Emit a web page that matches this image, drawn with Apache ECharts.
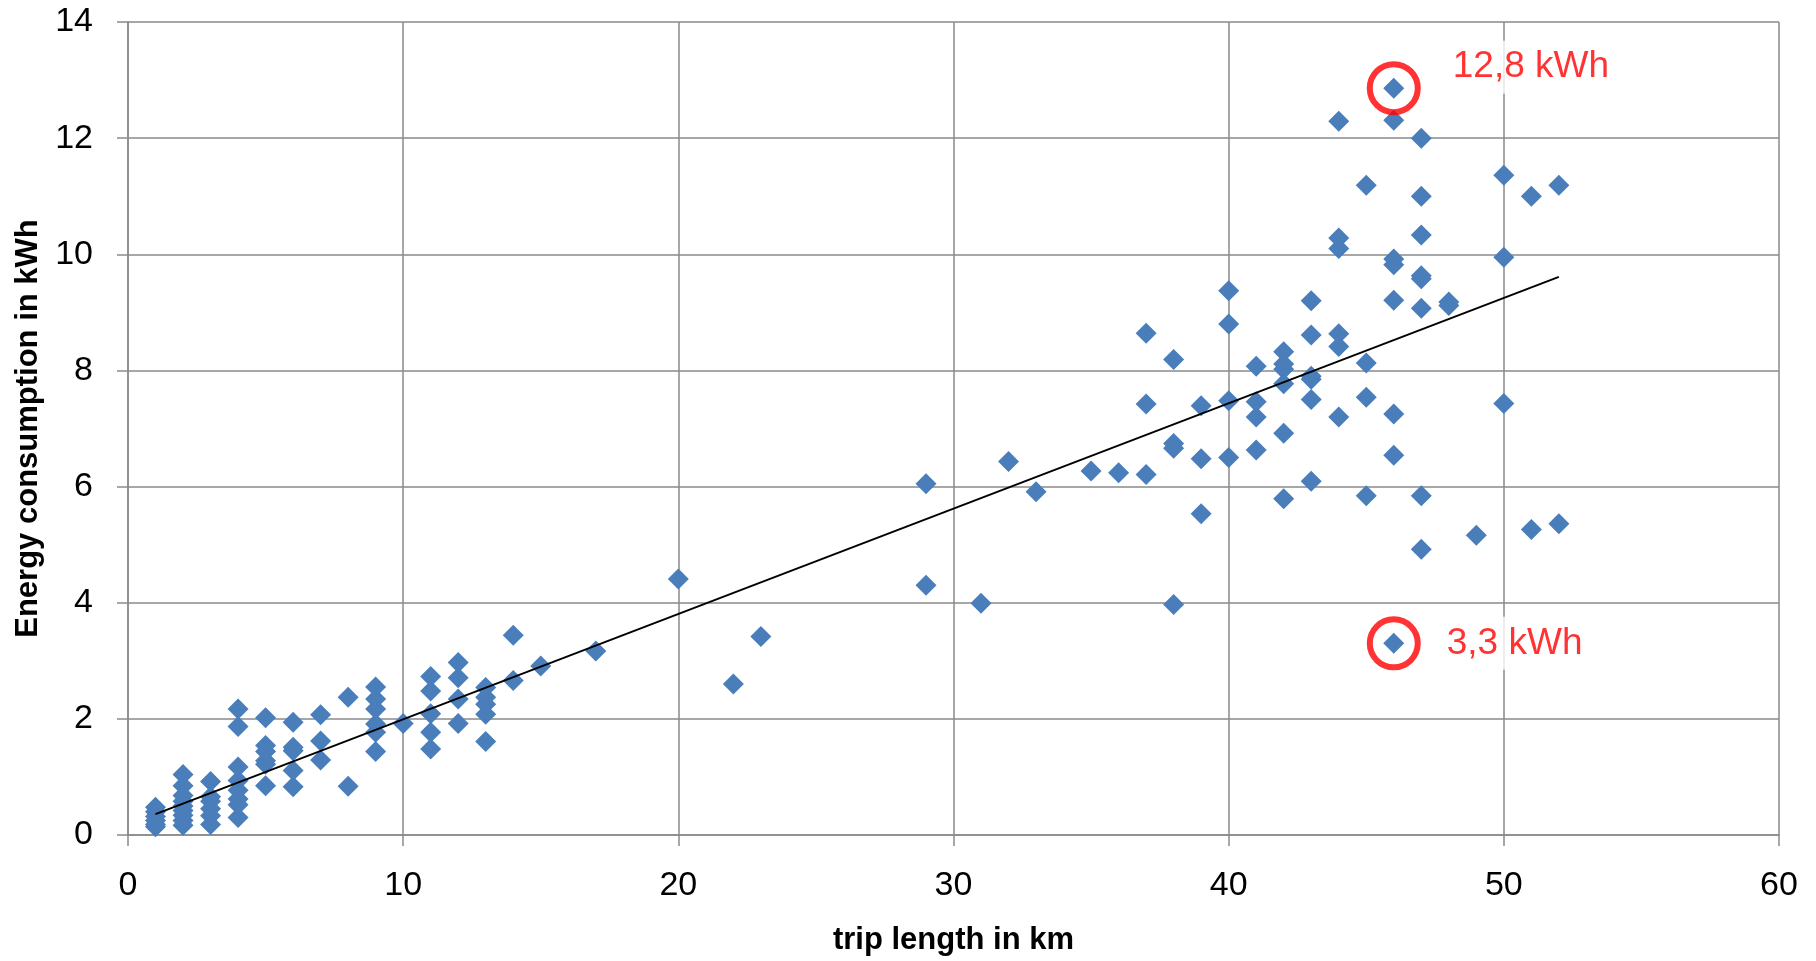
<!DOCTYPE html>
<html>
<head>
<meta charset="utf-8">
<script src="https://cdn.jsdelivr.net/npm/echarts@6/dist/echarts.min.js"></script>
<style>
html,body{margin:0;padding:0;background:#fff;}
#chart{width:1816px;height:961px;}
</style>
</head>
<body>
<div id="chart"></div>
<script>
// trip length (km) and energy consumption (kWh), one entry per trip
const tripKm = [
  1,1,1,1,1,1,
  2,2,2,2,2,2,2,2,2,
  3,3,3,3,3,3,
  4,4,4,4,4,4,4,4,
  5,5,5,5,5,5,
  6,6,6,6,6,
  7,7,7,
  8,8,
  9,9,9,9,9,9,
  10,
  11,11,11,11,11,
  12,12,12,12,
  13,13,13,13,13,
  14,14,
  15,17,20,22,23,
  29,29,31,32,33,35,36,
  37,37,37,
  38,38,38,38,
  39,39,39,
  40,40,40,40,
  41,41,41,41,
  42,42,42,42,42,42,
  43,43,43,43,43,43,
  44,44,44,44,44,44,
  45,45,45,45,
  46,46,46,46,46,46,46,46,
  47,47,47,47,47,47,47,47,
  48,48,
  49,
  50,50,50,
  51,51,
  52,52
];
const energyKWh = [
  0.48,0.40,0.32,0.25,0.18,0.14,
  1.04,0.85,0.68,0.58,0.50,0.42,0.34,0.25,0.17,
  0.92,0.66,0.58,0.45,0.33,0.18,
  2.17,1.87,1.17,0.94,0.77,0.62,0.52,0.30,
  2.02,1.54,1.44,1.28,1.22,0.85,
  1.94,1.51,1.45,1.11,0.83,
  2.07,1.62,1.29,
  2.37,0.84,
  2.55,2.34,2.17,1.91,1.77,1.44,
  1.92,
  2.73,2.48,2.09,1.77,1.48,
  2.97,2.71,2.34,1.92,
  2.54,2.37,2.25,2.08,1.61,
  3.44,2.66,
  2.91,3.17,4.41,2.60,3.42,
  6.05,4.30,3.99,6.43,5.91,6.27,6.24,
  8.64,7.42,6.21,
  8.19,6.74,6.66,3.97,
  7.39,6.48,5.53,
  9.37,8.80,7.48,6.50,
  8.07,7.46,7.20,6.63,
  8.32,8.11,8.02,7.77,6.92,5.79,
  9.20,8.61,7.90,7.85,7.50,6.09,
  12.29,10.28,10.10,8.63,8.41,7.20,
  11.19,8.13,7.54,5.84,
  12.86,12.31,9.92,9.82,9.21,7.25,6.54,3.30,
  12.00,11.00,10.33,9.63,9.58,9.07,5.84,4.92,
  9.18,9.12,
  5.16,
  11.36,9.95,7.43,
  11.00,5.26,
  11.19,5.36
];
// linear trend line end points
const trendKm = [1, 52];
const trendKWh = [0.36, 9.61];
// highlighted trips
const highlightKm = [46, 46];
const highlightKWh = [12.86, 3.30];
const highlightLabels = ['12,8 kWh', '3,3 kWh'];
// axis ticks
const xTicks = {min: 0, max: 60, interval: 10};
const yTicks = {min: 0, max: 14, interval: 2};
const xTitle = 'trip length in km';
const yTitle = 'Energy consumption in kWh';

const points = tripKm.map((x, i) => [x, energyKWh[i]]);
const trend = trendKm.map((x, i) => [x, trendKWh[i]]);
const labelOffsets = [[22, -21], [16, 0]];
const highlights = highlightKm.map((x, i) => ({
  value: [x, highlightKWh[i]],
  name: highlightLabels[i],
  label: {distance: labelOffsets[i][0], offset: [0, labelOffsets[i][1]]}
}));

const gridColor = '#8a8a8a';
const font = '"Liberation Sans", Arial, sans-serif';

const chart = echarts.init(document.getElementById('chart'), null, {renderer: 'canvas'});
chart.setOption({
  animation: false,
  backgroundColor: '#ffffff',
  grid: {left: 128, right: 37, top: 22, bottom: 123, containLabel: false},
  xAxis: {
    type: 'value',
    min: xTicks.min, max: xTicks.max, interval: xTicks.interval,
    name: xTitle,
    nameLocation: 'middle',
    nameGap: 90,
    nameTextStyle: {fontFamily: font, fontWeight: 'bold', fontSize: 31, color: '#000'},
    axisLine: {show: true, lineStyle: {color: gridColor, width: 1.5}},
    axisTick: {show: true, inside: false, length: 11, lineStyle: {color: gridColor, width: 1.5}},
    axisLabel: {fontFamily: font, fontSize: 34, color: '#000', margin: 34},
    splitLine: {show: true, lineStyle: {color: gridColor, width: 1.5}}
  },
  yAxis: {
    type: 'value',
    min: yTicks.min, max: yTicks.max, interval: yTicks.interval,
    name: yTitle,
    nameLocation: 'middle',
    nameGap: 82,
    nameRotate: 90,
    nameTextStyle: {fontFamily: font, fontWeight: 'bold', fontSize: 31, color: '#000'},
    axisLine: {show: true, lineStyle: {color: gridColor, width: 1.5}},
    axisTick: {show: true, inside: false, length: 11, lineStyle: {color: gridColor, width: 1.5}},
    axisLabel: {fontFamily: font, fontSize: 34, color: '#000', margin: 35},
    splitLine: {show: true, lineStyle: {color: gridColor, width: 1.5}}
  },
  series: [
    {
      type: 'scatter',
      data: points,
      symbol: 'diamond',
      symbolSize: [21, 21],
      itemStyle: {color: '#4a7ebb', opacity: 1},
      z: 2
    },
    {
      type: 'line',
      data: trend,
      symbol: 'none',
      lineStyle: {color: '#000', width: 2},
      z: 3
    },
    {
      type: 'scatter',
      data: highlights,
      symbol: 'circle',
      symbolSize: 48,
      itemStyle: {color: 'rgba(0,0,0,0)', borderColor: '#ff0000', borderWidth: 6},
      label: {
        show: true,
        position: 'right',
        formatter: p => p.name,
        fontFamily: font,
        fontSize: 37,
        color: '#ff0000',
        backgroundColor: '#ffffff',
        padding: [8, 10]
      },
      z: 4
    }
  ]
});
</script>
</body>
</html>
